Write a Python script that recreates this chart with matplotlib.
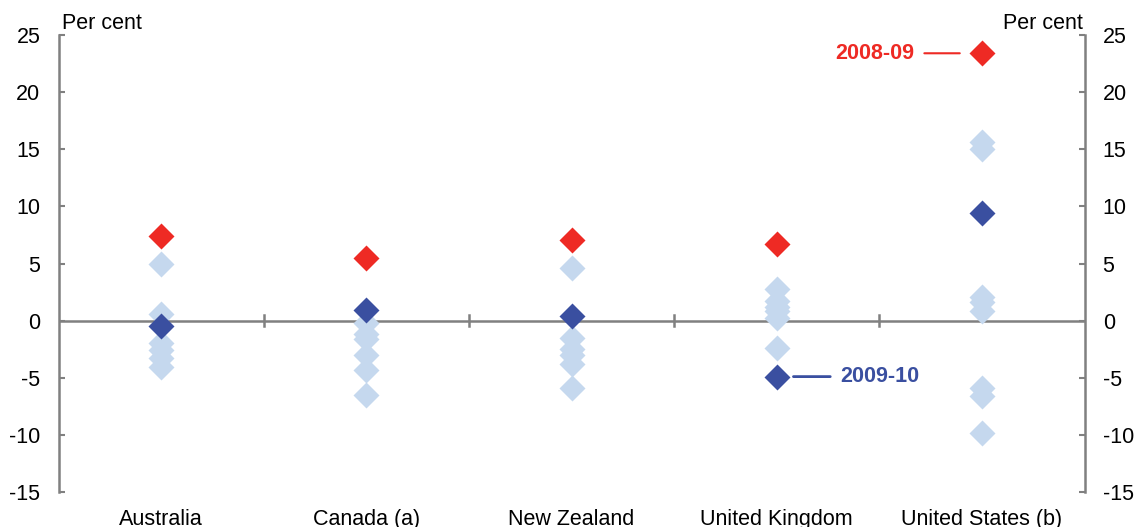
import matplotlib
matplotlib.use("Agg")
import matplotlib.pyplot as plt
import numpy as np

plt.rcParams['font.family'] = ['Liberation Sans', 'DejaVu Sans']
plt.rcParams['axes.unicode_minus'] = False

# ============ DATA ============
countries = ["Australia", "Canada (a)", "New Zealand", "United Kingdom", "United States (b)"]

# other years (light blue)
other_years = [
    [5.0, 0.6, -2.0, -2.6, -3.3, -4.1],
    [-0.2, -1.2, -1.6, -3.0, -4.3, -6.5],
    [4.6, -1.5, -2.5, -3.0, -3.8, -5.9],
    [2.8, 1.7, 1.2, 0.8, 0.2, -2.4],
    [15.6, 15.0, 2.1, 1.6, 0.8, -5.9, -6.6, -9.8],
]
fy_2009_10 = [-0.5, 0.9, 0.4, -4.9, 9.4]
fy_2008_09 = [7.4, 5.5, 7.1, 6.7, 23.4]

y_ticks = [-15, -10, -5, 0, 5, 10, 15, 20, 25]

RED = "#EE2A24"
DARK = "#3A4FA0"
LIGHT = "#C5D8EE"
GREY = "#808080"
FS = 15.5

# ==============================

fig = plt.figure(figsize=(11.37, 5.27), dpi=100)
ax = fig.add_axes([0.0515, 0.0664, 0.9024, 0.8672])

x = np.arange(len(countries))

for i, vals in enumerate(other_years):
    ax.plot([x[i]] * len(vals), vals, linestyle="none", marker="D", ms=13,
            color=LIGHT, mec="none", zorder=3)
ax.plot(x, fy_2009_10, linestyle="none", marker="D", ms=13, color=DARK, mec="none", zorder=4)
ax.plot(x, fy_2008_09, linestyle="none", marker="D", ms=13, color=RED, mec="none", zorder=5)

# zero line with category separators
ax.axhline(0, color=GREY, lw=1.8, zorder=2)
for b in x[:-1] + 0.5:
    ax.plot([b, b], [-0.5, 0.5], color=GREY, lw=1.8, zorder=2)

ax.set_xlim(-0.5, len(countries) - 0.5)
ax.set_ylim(-15, 25)
ax.set_yticks(y_ticks)
ax.set_xticks(x)
ax.set_xticklabels(countries, fontsize=FS)
ax.tick_params(axis="x", length=0, pad=12.5)
ax.tick_params(axis="y", direction="in", length=4, width=1.5, color=GREY, labelsize=FS,
               right=True, labelright=True, pad=13)

for s in ["top", "bottom"]:
    ax.spines[s].set_visible(False)
for s in ["left", "right"]:
    ax.spines[s].set_color(GREY)
    ax.spines[s].set_linewidth(1.8)

ax.text(0.003, 1.003, "Per cent", transform=ax.transAxes, ha="left", va="bottom", fontsize=FS)
ax.text(0.998, 1.003, "Per cent", transform=ax.transAxes, ha="right", va="bottom", fontsize=FS)

# labels
ax.annotate("2008-09", xy=(x[4], fy_2008_09[4]), xytext=(-49, 0), textcoords="offset points",
            ha="right", va="center", fontsize=FS, fontweight="bold", color=RED,
            arrowprops=dict(arrowstyle="-", color=RED, lw=1.5, shrinkA=5.5, shrinkB=16))
ax.annotate("2009-10", xy=(x[3], fy_2009_10[3]), xytext=(46, 0), textcoords="offset points",
            ha="left", va="center", fontsize=FS, fontweight="bold", color=DARK,
            arrowprops=dict(arrowstyle="-", color=DARK, lw=2, shrinkA=5.5, shrinkB=12))

fig.savefig("out.png", dpi=100)
